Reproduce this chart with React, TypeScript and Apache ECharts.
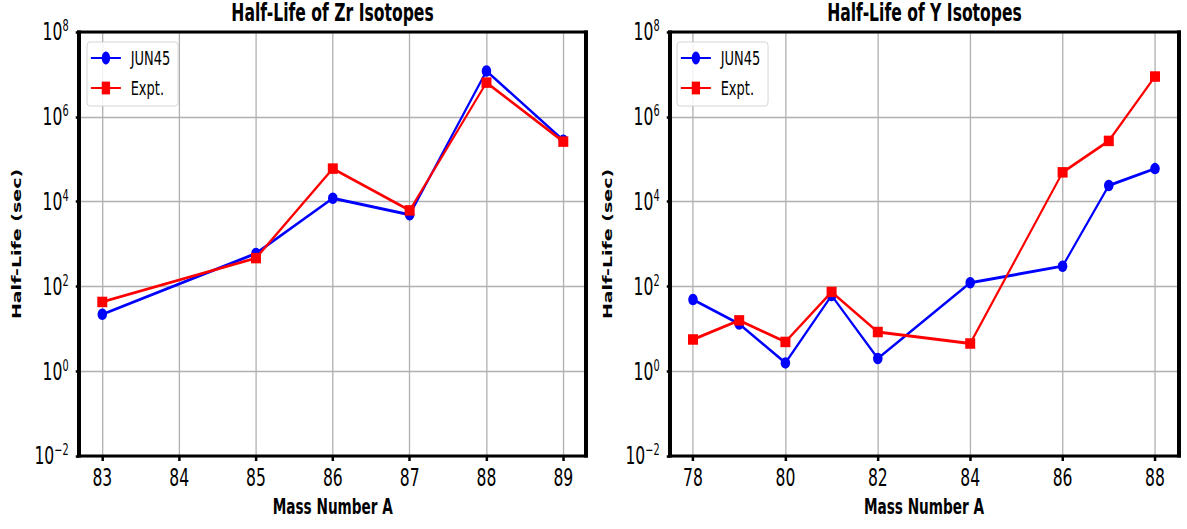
import React, { useEffect, useRef } from "react";
import * as echarts from "echarts";

// ---- data ----
const zrMass = [83, 85, 86, 87, 88, 89];
const zrJun45 = [22, 600, 1.2e4, 4.9e3, 1.2e7, 2.8e5];
const zrExpt = [43, 465, 6.0e4, 6.2e3, 6.4e6, 2.6e5];

const yMass = [78, 79, 80, 81, 82, 84, 86, 87, 88];
const yJun45 = [49, 13, 1.57, 61, 2.0, 122, 300, 2.4e4, 6.0e4];
const yExpt = [5.6, 15.8, 4.9, 74, 8.4, 4.5, 4.9e4, 2.7e5, 8.9e6];

const titles = ["Half-Life of Zr Isotopes", "Half-Life of Y Isotopes"];
const seriesNames = ["JUN45", "Expt."];
const xName = "Mass Number A";
const yName = "Half-Life (sec)";

// ---- layout (image px -> unscaled px) ----
const F = 0.65;
const W = 1187 / F;
const H = 529;
const ux = (px: number) => px / F;
const FONT = "DejaVu Sans";
const TOP = 32;
const BOT = 456;

const boxes = [
  { L: 79, R: 586, iL: 102.3, iR: 563.3, min: 83, max: 89, interval: 1, legendX: 87 },
  { L: 670, R: 1179, iL: 693, iR: 1155, min: 78, max: 88, interval: 2, legendX: 677 },
];

function powLabel(v: number) {
  const e = Math.round(Math.log10(v));
  const s = e < 0 ? "\u2212" + String(-e) : String(e);
  return "{b|10}{s|" + s + "}";
}

function buildOption() {
  const grid: any[] = [];
  const xAxis: any[] = [];
  const yAxis: any[] = [];
  const graphic: any[] = [];
  const legend: any[] = [];

  boxes.forEach((b, k) => {
    grid.push({ left: ux(b.L), top: TOP, width: ux(b.R) - ux(b.L), height: BOT - TOP });
    grid.push({ left: ux(b.iL), top: TOP, width: ux(b.iR) - ux(b.iL), height: BOT - TOP });
    const go = 2 * k;
    const gi = 2 * k + 1;
    xAxis.push({ type: "value", gridIndex: go, min: 0, max: 1, show: false });
    xAxis.push({
      type: "value",
      gridIndex: gi,
      min: b.min,
      max: b.max,
      interval: b.interval,
      position: "bottom",
      axisLine: { show: false },
      axisTick: { show: true, length: 5, lineStyle: { color: "#000", width: 2.5 / F } },
      axisLabel: { fontSize: 24, color: "#000", fontFamily: FONT, margin: 10 },
      splitLine: { show: true, lineStyle: { color: "#b0b0b0", width: 1.3 / F } },
      name: xName,
      nameLocation: "middle",
      nameGap: 40,
      nameTextStyle: { fontSize: 21, fontWeight: "bold", color: "#000", fontFamily: FONT },
    });
    yAxis.push({
      type: "log",
      logBase: 10,
      gridIndex: go,
      min: 0.01,
      max: 1e8,
      interval: 2,
      axisLine: { show: false },
      axisTick: { show: true, length: 5, lineStyle: { color: "#000", width: 2.5 } },
      minorTick: { show: false },
      axisLabel: {
        margin: 16,
        formatter: powLabel,
        rich: {
          b: { fontSize: 24, color: "#000", fontFamily: FONT },
          s: { fontSize: 15, color: "#000", fontFamily: FONT, padding: [0, 0, 12, 0] },
        },
      },
      splitLine: { show: true, lineStyle: { color: "#b0b0b0", width: 1.3 } },
      name: yName,
      nameLocation: "middle",
      nameRotate: 90,
      nameGap: 86,
      nameTextStyle: { fontSize: 19, fontWeight: "bold", color: "#000", fontFamily: FONT },
    });
    yAxis.push({ type: "log", logBase: 10, gridIndex: gi, min: 0.01, max: 1e8, show: false });

    // frame
    const L = ux(b.L);
    const R = ux(b.R);
    const vw = 4 / F;
    const hw = 3;
    const st = { fill: "#000" };
    graphic.push({ type: "rect", z: 100, shape: { x: L - vw / 2, y: TOP - hw / 2, width: R - L + vw, height: hw }, style: st });
    graphic.push({ type: "rect", z: 100, shape: { x: L - vw / 2, y: BOT - hw / 2, width: R - L + vw, height: hw }, style: st });
    graphic.push({ type: "rect", z: 100, shape: { x: L - vw / 2, y: TOP - hw / 2, width: vw, height: BOT - TOP + hw }, style: st });
    graphic.push({ type: "rect", z: 100, shape: { x: R - vw / 2, y: TOP - hw / 2, width: vw, height: BOT - TOP + hw }, style: st });
    // title
    graphic.push({
      type: "text",
      z: 100,
      x: (L + R) / 2,
      y: 1,
      style: {
        text: titles[k],
        fontSize: 24,
        fontWeight: "bold",
        fontFamily: FONT,
        fill: "#000",
        align: "center",
        textAlign: "center",
        verticalAlign: "top",
        textVerticalAlign: "top",
      },
    });

    legend.push({
      left: ux(b.legendX),
      top: 42,
      orient: "vertical",
      data: seriesNames,
      itemWidth: 30 / F,
      itemHeight: 16,
      itemGap: 10,
      padding: [6, 12, 8, 5],
      backgroundColor: "rgba(255,255,255,0.85)",
      borderColor: "#cccccc",
      borderWidth: 1,
      borderRadius: 4,
      textStyle: { fontSize: 20, fontFamily: FONT, color: "#000", padding: [0, 0, 0, 10], lineHeight: 20 },
    });
  });

  const mk = (name: string, xs: number[], ys: number[], idx: number) => {
    const isJ = name === seriesNames[0];
    const color = isJ ? "#0000ff" : "#ff0000";
    return {
      name,
      type: "line",
      xAxisIndex: idx,
      yAxisIndex: idx,
      data: xs.map((m, i) => [m, ys[i]]),
      symbol: isJ ? "circle" : "rect",
      symbolSize: isJ ? [9.5 / F, 11.5] : [10 / F, 10.5],
      showSymbol: true,
      clip: false,
      lineStyle: { color, width: 2.9 },
      itemStyle: { color },
      z: isJ ? 3 : 4,
    };
  };

  const series = [
    mk(seriesNames[0], zrMass, zrJun45, 1),
    mk(seriesNames[1], zrMass, zrExpt, 1),
    mk(seriesNames[0], yMass, yJun45, 3),
    mk(seriesNames[1], yMass, yExpt, 3),
  ];

  return {
    animation: false,
    backgroundColor: "#ffffff",
    textStyle: { fontFamily: FONT },
    grid,
    xAxis,
    yAxis,
    legend,
    graphic,
    series,
  };
}

export default function App() {
  const ref = useRef<HTMLDivElement>(null);
  useEffect(() => {
    document.body.style.overflow = "hidden";
    const chart = echarts.init(ref.current!, null, { renderer: "svg" });
    chart.setOption(buildOption() as any);
    return () => chart.dispose();
  }, []);
  return (
    <div
      style={{
        position: "absolute",
        left: 0,
        top: 0,
        width: 1187,
        height: H,
        overflow: "hidden",
        background: "#fff",
      }}
    >
      <div
        ref={ref}
        style={{
          width: W,
          height: H,
          transform: `scaleX(${F})`,
          transformOrigin: "0 0",
        }}
      />
    </div>
  );
}
